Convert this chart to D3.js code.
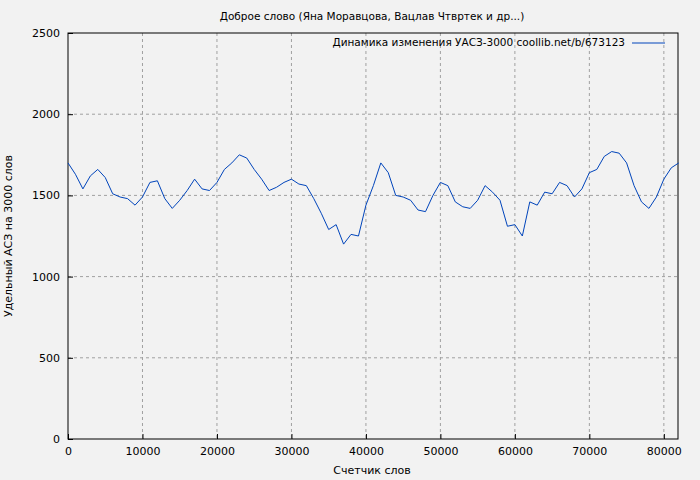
<!DOCTYPE html>
<html><head><meta charset="utf-8">
<script src="https://cdn.jsdelivr.net/npm/d3@7"></script>
<style>body{margin:0;background:#f2f2f2}svg{font-family:"DejaVu Sans",sans-serif}</style>
</head><body><svg id="c" width="700" height="480"></svg>
<script>
var wordCounts = d3.range(0, 83).map(function(i){ return i * 1000; });
var ascValues = [1700,1630,1540,1620,1660,1610,1510,1490,1480,1440,1490,1580,1590,1480,1420,1470,1530,1600,1540,1530,
  1580,1660,1700,1750,1730,1660,1600,1530,1550,1580,1600,1570,1560,1480,1390,1290,1320,1200,1260,1250,
  1440,1560,1700,1640,1500,1490,1470,1410,1400,1500,1580,1560,1460,1430,1420,1470,1560,1520,1470,1310,
  1320,1250,1460,1440,1520,1510,1580,1560,1490,1540,1640,1660,1740,1770,1760,1700,1560,1460,1420,1490,
  1600,1670,1700];
var xTicks = [0,10000,20000,30000,40000,50000,60000,70000,80000];
var yTicks = [0,500,1000,1500,2000,2500];

var svg = d3.select("#c");
var pl = 68, pr = 678, pt = 33, pb = 439;
var x = d3.scaleLinear().domain([0, 81900]).range([pl, pr]);
var y = d3.scaleLinear().domain([0, 2500]).range([pb, pt]);

svg.append("g").selectAll("line").data(xTicks.slice(1)).enter().append("line")
  .attr("x1", x).attr("x2", x).attr("y1", pt).attr("y2", pb)
  .attr("stroke", "#a0a0a0").attr("stroke-dasharray", "3,3");
svg.append("g").selectAll("line").data(yTicks.slice(1, -1)).enter().append("line")
  .attr("y1", y).attr("y2", y).attr("x1", pl).attr("x2", pr)
  .attr("stroke", "#a0a0a0").attr("stroke-dasharray", "3,3");

svg.append("rect").attr("x", pl).attr("y", pt).attr("width", pr - pl).attr("height", pb - pt)
  .attr("fill", "none").attr("stroke", "#000");

var xAxis = svg.append("g").attr("transform", "translate(0," + pb + ")")
  .call(d3.axisBottom(x).tickValues(xTicks).tickFormat(d3.format("d")).tickSizeInner(-5).tickSizeOuter(0));
var yAxis = svg.append("g").attr("transform", "translate(" + pl + ",0)")
  .call(d3.axisLeft(y).tickValues(yTicks).tickFormat(d3.format("d")).tickSizeInner(-5).tickSizeOuter(0));
[xAxis, yAxis].forEach(function(a){
  a.select(".domain").remove();
  a.selectAll("text").attr("font-size", 11).attr("fill", "#000").attr("font-family", "DejaVu Sans");
});
xAxis.selectAll("text").attr("dy", "1.2em");
yAxis.selectAll("text").attr("x", -8);

svg.append("path").datum(wordCounts.map(function(w, i){ return [w, ascValues[i]]; }))
  .attr("fill", "none").attr("stroke", "#0044bb").attr("stroke-width", 1)
  .attr("d", d3.line().x(function(d){ return x(d[0]); }).y(function(d){ return y(d[1]); }));

svg.append("text").attr("x", 372).attr("y", 20).attr("text-anchor", "middle").attr("font-size", 10.5)
  .text("Доброе слово (Яна Моравцова, Вацлав Чтвртек и др...)");
svg.append("text").attr("x", 372).attr("y", 474).attr("text-anchor", "middle").attr("font-size", 11)
  .text("Счетчик слов");
svg.append("text").attr("transform", "translate(12,236) rotate(-90)").attr("text-anchor", "middle").attr("font-size", 11)
  .text("Удельный АСЗ на 3000 слов");
svg.append("text").attr("x", 625).attr("y", 46).attr("text-anchor", "end").attr("font-size", 10.5)
  .text("Динамика изменения УАСЗ-3000 coollib.net/b/673123");
svg.append("line").attr("x1", 632).attr("x2", 665).attr("y1", 43).attr("y2", 43).attr("stroke", "#0044bb");
</script></body></html>
